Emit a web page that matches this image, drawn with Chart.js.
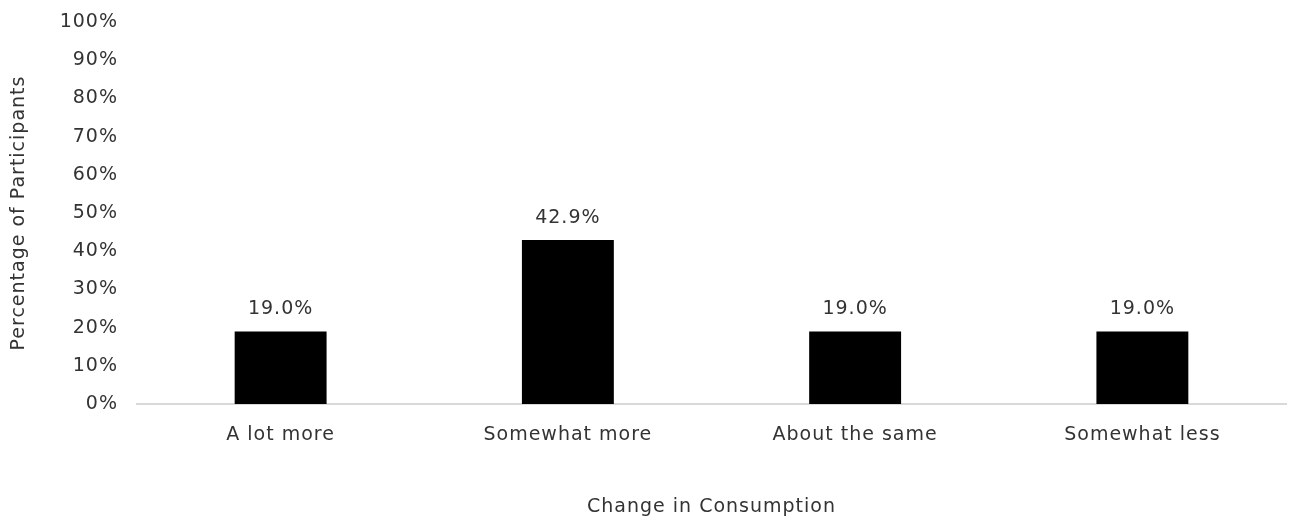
<!DOCTYPE html>
<html lang="en">
<head>
  <meta charset="UTF-8">
  <title>Change in Consumption</title>
  <script src="https://cdn.jsdelivr.net/npm/chart.js"></script>
  <style>
    body {
      margin: 0;
      background-color: #fff;
    }
    #chartBox {
      width: 1299px;
      height: 519px;
    }
  </style>
</head>
<body>
  <div id="chartBox">
    <canvas id="consumptionChart" width="1299" height="519"></canvas>
  </div>

  <script>
    const categories = ["A lot more", "Somewhat more", "About the same", "Somewhat less"];
    const percentages = [19.0, 42.9, 19.0, 19.0];
    const yTicks = [0, 10, 20, 30, 40, 50, 60, 70, 80, 90, 100];

    const fontFamily = "'DejaVu Sans', Arial, sans-serif";
    const textColor = '#333';
    Chart.defaults.font.family = fontFamily;
    Chart.defaults.font.size = 19;
    Chart.defaults.color = textColor;

    // a bit of tracking so the text is closer to the wide original face
    const wideText = {
      id: 'wideText',
      beforeDraw(chart) {
        chart.ctx.letterSpacing = '1px';
      }
    };

    // labels above each bar
    const barLabels = {
      id: 'barLabels',
      afterDatasetsDraw(chart) {
        const ctx = chart.ctx;
        const meta = chart.getDatasetMeta(0);
        ctx.save();
        ctx.font = '19px ' + fontFamily;
        ctx.fillStyle = textColor;
        ctx.textAlign = 'center';
        ctx.textBaseline = 'bottom';
        meta.data.forEach((bar, i) => {
          ctx.fillText(percentages[i].toFixed(1) + '%', bar.x, bar.y - 13);
        });
        ctx.restore();
      }
    };

    const ctx = document.getElementById('consumptionChart').getContext('2d');
    const consumptionChart = new Chart(ctx, {
      type: 'bar',
      data: {
        labels: categories,
        datasets: [{
          data: percentages,
          backgroundColor: '#000',
          categoryPercentage: 1.0,
          barPercentage: 0.32
        }]
      },
      options: {
        responsive: false,
        animation: false,
        layout: { padding: { top: 22, right: 13, left: 0, bottom: 0 } },
        plugins: {
          legend: { display: false },
          tooltip: { enabled: false }
        },
        scales: {
          x: {
            grid: { display: false },
            border: { color: '#d9d9d9', width: 2 },
            ticks: { padding: 12, color: textColor },
            title: {
              display: true,
              text: 'Change in Consumption',
              color: textColor,
              padding: { top: 50, bottom: 1 }
            },
            afterFit(scale) { scale.height = 115; }
          },
          y: {
            min: 0,
            max: 100,
            afterBuildTicks(scale) {
              scale.ticks = yTicks.map(v => ({ value: v }));
            },
            grid: { display: false },
            border: { display: false },
            ticks: {
              padding: 11,
              color: textColor,
              callback: v => v + '%'
            },
            title: {
              display: true,
              text: 'Percentage of Participants',
              color: textColor,
              padding: { top: 8, bottom: 8 }
            },
            afterFit(scale) {
              scale.width = 137;
              scale.paddingTop = 0;
            }
          }
        }
      },
      plugins: [wideText, barLabels]
    });
  </script>
</body>
</html>
